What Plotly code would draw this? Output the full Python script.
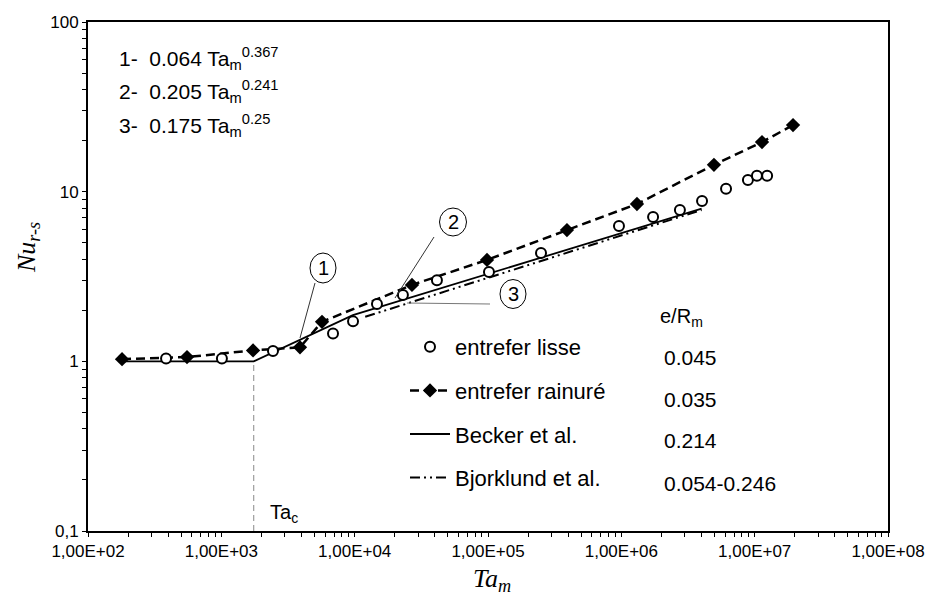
import plotly.graph_objects as go

# ---- data ----
ta_lisse = [385, 1010, 2440, 6880, 9720, 14700, 23000, 41400, 101700, 249800,
            960000, 1.73e6, 2.75e6, 4.03e6, 6.1e6, 8.9e6, 1.04e7, 1.24e7]
nu_lisse = [1.04, 1.04, 1.15, 1.46, 1.72, 2.18, 2.46, 3.01, 3.36, 4.35,
            6.28, 7.1, 7.8, 8.8, 10.4, 11.7, 12.4, 12.4]

ta_rainure = [180, 553, 1730, 3890, 5690, 26900, 98300, 391000, 1.31e6, 4.95e6, 1.135e7, 1.94e7]
nu_rainure = [1.03, 1.06, 1.16, 1.21, 1.71, 2.82, 3.96, 5.94, 8.46, 14.4, 19.6, 24.7]

ta_becker = [180, 1750, 9700, 4.0e6]
nu_becker = [1.0, 1.0, 1.87, 7.95]

ta_bjork = [1.2e4, 4.0e6]
nu_bjork = [1.83, 7.8]

ta_c = [1750, 1750]
nu_c = [0.1, 1.0]

x_tick_vals = [1e2, 1e3, 1e4, 1e5, 1e6, 1e7, 1e8]
x_tick_text = ["1,00E+02", "1,00E+03", "1,00E+04", "1,00E+05", "1,00E+06", "1,00E+07", "1,00E+08"]
y_tick_vals = [0.1, 1, 10, 100]
y_tick_text = ["0,1", "1", "10", "100"]

legend_names = ["entrefer lisse", "entrefer rainuré", "Becker et al.", "Bjorklund et al."]
ratio_header = "e/R<sub>m</sub>"
ratio_values = ["0.045", "0.035", "0.214", "0.054-0.246"]
formulas = ["1-  0.064 Ta<sub>m</sub><sup>0.367</sup>",
            "2-  0.205 Ta<sub>m</sub><sup>0.241</sup>",
            "3-  0.175 Ta<sub>m</sub><sup>0.25</sup>"]

# ---- layout geometry ----
W, H = 932, 605
L, R, T, B = 88, 44, 22, 74
PW, PH = W - L - R, H - T - B


def px(x):
    return (x - L) / PW


def py(y):
    return (H - B - y) / PH


# all tick positions (major + minor) for crossing ticks
x_all = [m * 10 ** k for k in range(2, 8) for m in range(1, 10)] + [1e8]
y_all = [m * 10 ** k for k in range(-1, 2) for m in range(1, 10)] + [100]
x_all_text = [x_tick_text[x_tick_vals.index(v)] if v in x_tick_vals else "" for v in x_all]
y_all_text = [y_tick_text[y_tick_vals.index(v)] if v in y_tick_vals else "" for v in y_all]

FONT = "Liberation Sans, Arial, sans-serif"
SERIF = "Liberation Serif, Times New Roman, serif"

fig = go.Figure()

fig.add_trace(go.Scatter(x=ta_c, y=nu_c, mode="lines", showlegend=False,
                         line=dict(color="#888888", width=1, dash="6px,4px")))

fig.add_trace(go.Scatter(x=ta_becker, y=nu_becker, mode="lines", name=legend_names[2],
                         legendgroup="c", legendrank=3,
                         line=dict(color="black", width=1.8)))
fig.add_trace(go.Scatter(x=ta_bjork, y=nu_bjork, mode="lines", name=legend_names[3],
                         legendgroup="d", legendrank=4,
                         line=dict(color="black", width=2, dash="10px,4px,2px,4px,2px,4px")))
fig.add_trace(go.Scatter(x=ta_rainure, y=nu_rainure, mode="lines+markers", name=legend_names[1],
                         legendgroup="b", legendrank=2,
                         line=dict(color="black", width=2.5, dash="9px,5px"),
                         marker=dict(symbol="diamond", size=11, color="black")))
fig.add_trace(go.Scatter(x=ta_lisse, y=nu_lisse, mode="markers", name=legend_names[0],
                         legendgroup="a", legendrank=1,
                         marker=dict(symbol="circle", size=10, color="white",
                                     line=dict(color="black", width=2))))

annotations = []
for i, f in enumerate(formulas):
    annotations.append(dict(xref="paper", yref="paper", x=px(117), y=py(58 + 34 * i),
                            text=f, showarrow=False, xanchor="left", yanchor="middle",
                            font=dict(family=FONT, size=21, color="black")))
annotations.append(dict(xref="paper", yref="paper", x=px(658), y=py(317), text=ratio_header,
                        showarrow=False, xanchor="left", yanchor="middle",
                        font=dict(family=FONT, size=20, color="black")))
for i, v in enumerate(ratio_values):
    annotations.append(dict(xref="paper", yref="paper", x=px(662), y=py(357 + 42 * i), text=v,
                            showarrow=False, xanchor="left", yanchor="middle",
                            font=dict(family=FONT, size=21, color="black")))
annotations.append(dict(xref="paper", yref="paper", x=px(268), y=py(513), text="Ta<sub>c</sub>",
                        showarrow=False, xanchor="left", yanchor="middle",
                        font=dict(family=FONT, size=20, color="black")))
# circled labels
circles = [("1", 323, 268, 13, 15), ("2", 453, 222, 13.5, 14), ("3", 513, 294, 13, 14.5)]
shapes = []
for lab, cx, cy, rx, ry in circles:
    annotations.append(dict(xref="paper", yref="paper", x=px(cx), y=py(cy), text=lab,
                            showarrow=False, xanchor="center", yanchor="middle",
                            font=dict(family=FONT, size=20, color="black")))
    shapes.append(dict(type="circle", xref="paper", yref="paper",
                       x0=px(cx - rx), x1=px(cx + rx), y0=py(cy + ry), y1=py(cy - ry),
                       line=dict(color="black", width=1)))
leaders = [(315, 283, 300, 338, "#333333"), (434, 237, 395, 298, "#333333"), (490, 304, 407, 303, "#777777")]
for x0, y0, x1, y1, c in leaders:
    shapes.append(dict(type="line", xref="paper", yref="paper",
                       x0=px(x0), y0=py(y0), x1=px(x1), y1=py(y1),
                       line=dict(color=c, width=1)))
# axis titles
annotations.append(dict(xref="paper", yref="paper", x=px(492), y=py(580),
                        text="<i>Ta<sub>m</sub></i>", showarrow=False,
                        xanchor="center", yanchor="middle",
                        font=dict(family=SERIF, size=26, color="black")))
annotations.append(dict(xref="paper", yref="paper", x=px(28), y=py(248),
                        text="<i>Nu<sub>r-s</sub></i>", showarrow=False, textangle=-90,
                        xanchor="center", yanchor="middle",
                        font=dict(family=SERIF, size=26, color="black")))

common = dict(showgrid=False, zeroline=False, automargin=False, tickcolor="black", tickwidth=1.2)
fig.update_layout(
    width=W, height=H,
    margin=dict(l=L, r=R, t=T, b=B, autoexpand=False),
    paper_bgcolor="white", plot_bgcolor="white",
    font=dict(family=FONT, color="black"),
    xaxis=dict(type="log", range=[2, 8], tickmode="array", tickvals=x_all, ticktext=x_all_text,
               ticks="outside", ticklen=4,
               showline=True, linecolor="black", linewidth=2, mirror=True,
               tickfont=dict(family=FONT, size=17), **common),
    yaxis=dict(type="log", range=[-1, 2], tickmode="array", tickvals=y_all, ticktext=y_all_text,
               ticks="outside", ticklen=4,
               showline=True, linecolor="black", linewidth=2, mirror=True,
               tickfont=dict(family=FONT, size=17), **common),
    xaxis2=dict(type="log", range=[2, 8], overlaying="x", anchor="y", side="bottom",
                tickmode="array", tickvals=x_all, showticklabels=False,
                ticks="inside", ticklen=4, showline=False, **common),
    yaxis2=dict(type="log", range=[-1, 2], overlaying="y", anchor="x", side="left",
                tickmode="array", tickvals=y_all, showticklabels=False,
                ticks="inside", ticklen=4, showline=False, **common),
    legend=dict(x=px(405), y=py(326), xanchor="left", yanchor="top",
                bgcolor="rgba(0,0,0,0)", borderwidth=0, tracegroupgap=12,
                itemwidth=40, font=dict(family=FONT, size=22, color="black")),
    annotations=annotations,
    shapes=shapes,
)

fig.write_html("out.html", config={"displayModeBar": False},
               post_script="document.body.style.margin='0';document.body.style.padding='0';"
                           "document.documentElement.style.overflow='hidden';")
